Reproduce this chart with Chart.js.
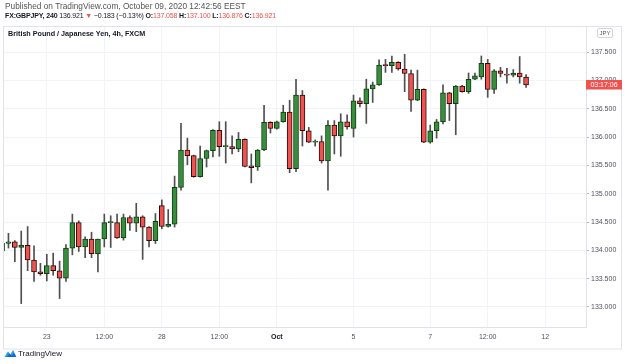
<!DOCTYPE html>
<html><head><meta charset="utf-8">
<script src="https://cdn.jsdelivr.net/npm/chart.js@4"></script>
<style>
html,body{margin:0;padding:0;background:#fff;width:625px;height:364px;overflow:hidden;font-family:"Liberation Sans",Arial,sans-serif;}
#wrap{position:relative;width:625px;height:364px;}
canvas{position:absolute;left:0;top:0;}
.t{position:absolute;white-space:nowrap;line-height:1;}
.r{color:#ef5350;}
.b{font-weight:bold;}
</style></head><body>
<div id="wrap">
<canvas id="c" width="625" height="364"></canvas>
<div class="t" style="left:5px;top:2px;font-size:8.3px;color:#555;">Published on TradingView.com, October 09, 2020 12:42:56 EEST</div>
<div class="t" style="left:5px;top:12px;font-size:7px;letter-spacing:-0.15px;color:#131722;"><span class="b">FX:GBPJPY, 240</span> 136.921 <span class="r">▼</span> −0.183 (−0.13%) <span class="b">O:</span><span class="r">137.058</span> <span class="b">H:</span><span class="r">137.100</span> <span class="b">L:</span><span class="r">136.876</span> <span class="b">C:</span><span class="r">136.921</span></div>
<div class="t" style="left:8px;top:30px;font-size:7.2px;font-weight:bold;color:#131722;">British Pound / Japanese Yen, 4h, FXCM</div>
<div class="t" style="left:597px;top:28px;width:14px;height:8px;border:1px solid #d1d4dc;border-radius:2px;font-size:6px;color:#555;text-align:center;line-height:8px;">JPY</div>
<svg style="position:absolute;left:4px;top:348px;" width="13" height="10" viewBox="0 0 13 10"><path d="M0.5 9 L4 3.5 L6.5 6.5 L9 2 L12.5 9 Z" fill="#2196f3"/><path d="M3 9 L5.5 5.5 L8 8 L10 5 L12 9 Z" fill="#0d47a1" opacity="0.6"/></svg>
<div class="t" style="left:18px;top:350px;font-size:8px;color:#131722;">TradingView</div>
</div>
<script>
const opens  = [133.99,134.12,134.15,134.05,134.09,133.83,133.62,133.59,133.73,133.64,133.51,134.04,134.49,134.06,134.20,133.94,134.20,134.49,134.49,134.22,134.58,134.48,134.59,134.41,134.17,134.79,134.42,134.46,135.11,135.77,135.67,135.30,135.62,135.76,136.12,135.83,135.83,135.79,135.96,135.49,135.47,135.77,136.26,136.15,136.27,136.44,135.44,136.74,136.11,135.91,135.92,135.58,136.21,136.02,136.27,136.15,136.64,136.59,136.85,136.92,137.28,137.26,137.32,137.20,137.12,136.65,136.84,135.91,136.11,136.27,136.78,136.59,136.90,136.80,137.02,137.06,137.30,136.84,137.17,137.11,137.09,137.13,137.058];
const highs  = [134.15,134.30,134.17,134.34,134.42,134.08,133.77,133.93,133.95,133.81,134.10,134.64,134.52,134.24,134.32,134.20,134.64,134.61,134.64,134.64,134.61,134.83,134.61,134.42,134.65,134.89,134.72,135.31,136.24,135.98,135.68,135.84,135.77,136.13,136.27,136.27,136.02,136.08,135.97,135.70,135.78,136.56,136.27,136.28,136.56,136.65,137.02,136.82,136.17,135.95,136.02,136.29,136.29,136.41,136.39,136.74,136.69,137.02,136.97,137.36,137.37,137.43,137.33,137.46,137.18,137.18,136.85,136.21,136.31,136.92,136.79,136.91,136.91,137.13,137.13,137.43,137.37,137.19,137.23,137.21,137.19,137.42,137.100];
const lows   = [133.97,134.04,133.80,133.06,133.64,133.45,133.56,133.46,133.56,133.15,133.45,133.92,133.98,133.87,133.87,133.62,134.06,134.05,134.21,134.18,134.35,134.33,133.84,134.06,134.12,134.38,134.41,134.41,135.06,135.51,135.29,135.29,135.47,135.65,135.66,135.54,135.70,135.74,135.47,135.19,135.41,135.76,136.07,136.14,136.26,135.37,135.39,135.84,135.90,135.84,135.54,135.06,135.70,135.66,136.14,136.00,136.53,136.24,136.61,136.91,137.14,137.14,137.18,136.80,136.45,136.64,135.90,135.89,135.98,136.23,136.29,136.04,136.79,136.77,137.01,137.02,136.70,136.77,137.06,136.95,137.06,136.95,136.876];
const closes = [134.13,134.15,134.05,134.09,133.83,133.62,133.59,133.73,133.64,133.51,134.04,134.49,134.06,134.20,133.94,134.20,134.49,134.49,134.22,134.58,134.48,134.59,134.41,134.17,134.51,134.42,134.46,135.11,135.77,135.67,135.30,135.62,135.76,136.12,135.83,135.83,135.79,135.96,135.48,135.46,135.77,136.26,136.15,136.27,136.44,135.44,136.74,136.11,135.91,135.92,135.58,136.21,136.02,136.27,136.18,136.64,136.59,136.85,136.92,137.27,137.26,137.32,137.20,137.12,136.65,136.84,135.91,136.11,136.27,136.78,136.59,136.90,136.80,137.02,137.08,137.30,136.84,137.17,137.12,137.09,137.13,137.06,136.921];
const xTickIdx    = [7,16,25,34,43,55,67,76,85];
const xTickLabels = ['23','12:00','28','12:00','Oct','5','7','12:00','12'];
const yTicks = [133.0,133.5,134.0,134.5,135.0,135.5,136.0,136.5,137.0,137.5];
const countdown = '03:17:06';

const UP='#388e3c', DOWN='#ef5350';
const isUp = i => closes[i] >= opens[i];

const framePlugin = {
  id:'frame',
  afterDraw(chart){
    const ctx = chart.ctx, ya = chart.scales.y;
    ctx.save();
    ctx.strokeStyle = '#e0e3eb'; ctx.lineWidth = 1;
    ctx.strokeRect(3.5, 26.5, 618, 322.5);
    const last = closes[closes.length-1];
    const py = ya.getPixelForValue(last);
    ctx.fillStyle = DOWN;
    ctx.fillRect(586, Math.round(py)-5, 36, 9.5);
    ctx.fillStyle = '#fff';
    ctx.font = '7px "Liberation Sans", Arial, sans-serif';
    ctx.textAlign = 'center'; ctx.textBaseline = 'middle';
    ctx.fillText(countdown, 604, Math.round(py)-0.2);
    ctx.restore();
  }
};

new Chart(document.getElementById('c'), {
  type:'bar',
  data:{
    datasets:[
      {
        label:'wick',
        data: opens.map((o,i)=>({x:i, y:[lows[i], highs[i]]})),
        backgroundColor:'#4f4f4f',
        barThickness:1,
        grouped:false,
        order:2
      },
      {
        label:'body',
        data: opens.map((o,i)=>({x:i, y:[o, closes[i]]})),
        backgroundColor: opens.map((o,i)=> isUp(i) ? UP : DOWN),
        borderColor: opens.map((o,i)=> isUp(i) ? '#103d13' : '#2b0a0a'),
        borderWidth:1,
        borderSkipped:false,
        minBarLength:1,
        barThickness:5,
        grouped:false,
        order:1
      }
    ]
  },
  options:{
    responsive:false,
    animation:false,
    devicePixelRatio:1,
    layout:{padding:{left:3,right:3,top:26,bottom:15}},
    plugins:{legend:{display:false},tooltip:{enabled:false}},
    scales:{
      x:{
        type:'linear', offset:false,
        min:0.146, max:91.38,
        afterBuildTicks: s => { s.ticks = xTickIdx.map(v=>({value:v})); },
        afterFit: s => { s.height = 22; },
        grid:{color:'#f0f3fa', drawTicks:false, offset:false},
        border:{color:'#e0e3eb'},
        ticks:{
          autoSkip:false, maxRotation:0, padding:6,
          callback: v => { const k = xTickIdx.indexOf(v); return k>=0 ? xTickLabels[k] : ''; },
          font: c => ({size:7, family:'"Liberation Sans", Arial, sans-serif', weight: (c.tick && c.tick.label==='Oct') ? 'bold' : 'normal'}),
          color: c => (c.tick && c.tick.label==='Oct') ? '#131722' : '#50535e'
        }
      },
      y:{
        type:'linear', position:'right',
        min:132.647, max:137.959,
        afterBuildTicks: s => { s.ticks = yTicks.map(v=>({value:v})); },
        afterFit: s => { s.width = 36; },
        grid:{color:'#f0f3fa', drawTicks:true, tickLength:3, tickColor:'#b2b5be'},
        border:{color:'#e0e3eb'},
        ticks:{
          padding:2,
          callback: v => Number(v).toFixed(3),
          font:{size:7, family:'"Liberation Sans", Arial, sans-serif'},
          color:'#50535e'
        }
      }
    }
  },
  plugins:[framePlugin]
});
</script>
</body></html>
